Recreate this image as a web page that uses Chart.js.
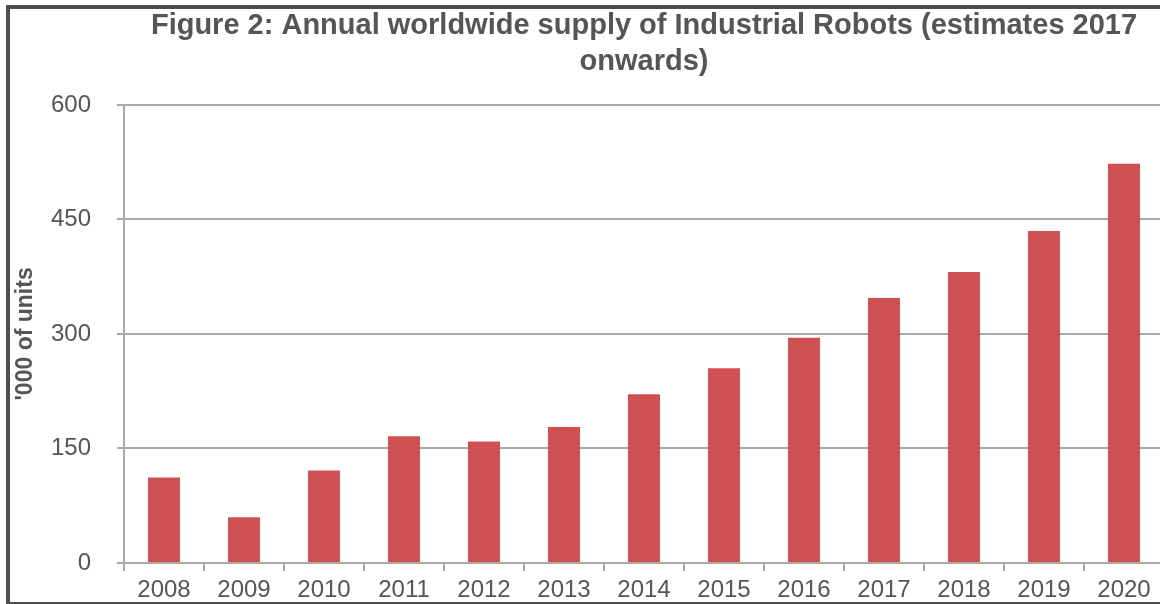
<!DOCTYPE html>
<html>
<head>
<meta charset="utf-8">
<script src="https://cdn.jsdelivr.net/npm/chart.js@4.4.0/dist/chart.umd.min.js"></script>
<style>
  html, body { margin: 0; padding: 0; background: #fff; overflow: hidden; width: 1160px; height: 604px; }
  #wrap { position: relative; width: 1160px; height: 604px; overflow: hidden; }
  #robotChart { position: absolute; left: 0; top: 0; }
  #frame { position: absolute; left: 6px; top: 5px; width: 1200px; height: 593px;
           border: 4px solid #4d4d4d; border-bottom-width: 3px; border-right: none; pointer-events: none; }
</style>
</head>
<body>
<div id="wrap">
  <canvas id="robotChart" width="1180" height="604"></canvas>
  <div id="frame"></div>
</div>
<script>
// chart data
const years = ['2008', '2009', '2010', '2011', '2012', '2013', '2014', '2015', '2016', '2017', '2018', '2019', '2020'];
const supply = [112, 60, 121, 166, 159, 178, 221, 255, 295, 347, 381, 435, 523];
const yTicks = [0, 150, 300, 450, 600];
const chartTitle = ['Figure 2: Annual worldwide supply of Industrial Robots (estimates 2017', 'onwards)'];
const yTitle = "'000 of units";

const textColor = '#555555';
const gridColor = '#a9a9a9';
const fontFamily = '"Liberation Sans", Arial, sans-serif';

const ctx = document.getElementById('robotChart').getContext('2d');

new Chart(ctx, {
    type: 'bar',
    data: {
        labels: years,
        datasets: [{
            label: 'Supply',
            data: supply,
            backgroundColor: '#d05052',
            borderWidth: 0,
            barPercentage: 0.4,
            categoryPercentage: 1.0
        }]
    },
    options: {
        responsive: false,
        animation: false,
        devicePixelRatio: 1,
        layout: {
            padding: { left: 0, right: 16, top: 0, bottom: 0 }
        },
        plugins: {
            legend: { display: false },
            tooltip: { enabled: false },
            title: {
                display: true,
                fullSize: false,
                text: chartTitle,
                color: textColor,
                font: { family: fontFamily, size: 29, weight: 'bold', lineHeight: 1.24 },
                padding: { top: 8, bottom: 25 }
            }
        },
        scales: {
            x: {
                grid: {
                    display: true,
                    offset: true,
                    drawOnChartArea: false,
                    drawTicks: true,
                    tickLength: 8,
                    color: gridColor,
                    lineWidth: 2
                },
                border: { display: true, color: gridColor, width: 2 },
                ticks: {
                    color: textColor,
                    font: { family: fontFamily, size: 24 },
                    padding: 5,
                    maxRotation: 0,
                    autoSkip: false
                },
                afterFit: (scale) => { scale.height = 41; }
            },
            y: {
                min: 0,
                max: 600,
                afterBuildTicks: (scale) => { scale.ticks = yTicks.map(v => ({ value: v })); },
                grid: {
                    color: gridColor,
                    lineWidth: 2,
                    drawTicks: true,
                    tickLength: 7
                },
                border: { display: true, color: gridColor, width: 2 },
                ticks: {
                    color: textColor,
                    font: { family: fontFamily, size: 24 },
                    padding: 26
                },
                title: {
                    display: true,
                    text: yTitle,
                    color: textColor,
                    font: { family: fontFamily, size: 23, weight: 'bold' },
                    padding: { top: 12, bottom: 0 }
                },
                afterFit: (scale) => { scale.width = 124; }
            }
        }
    }
});
</script>
</body>
</html>
